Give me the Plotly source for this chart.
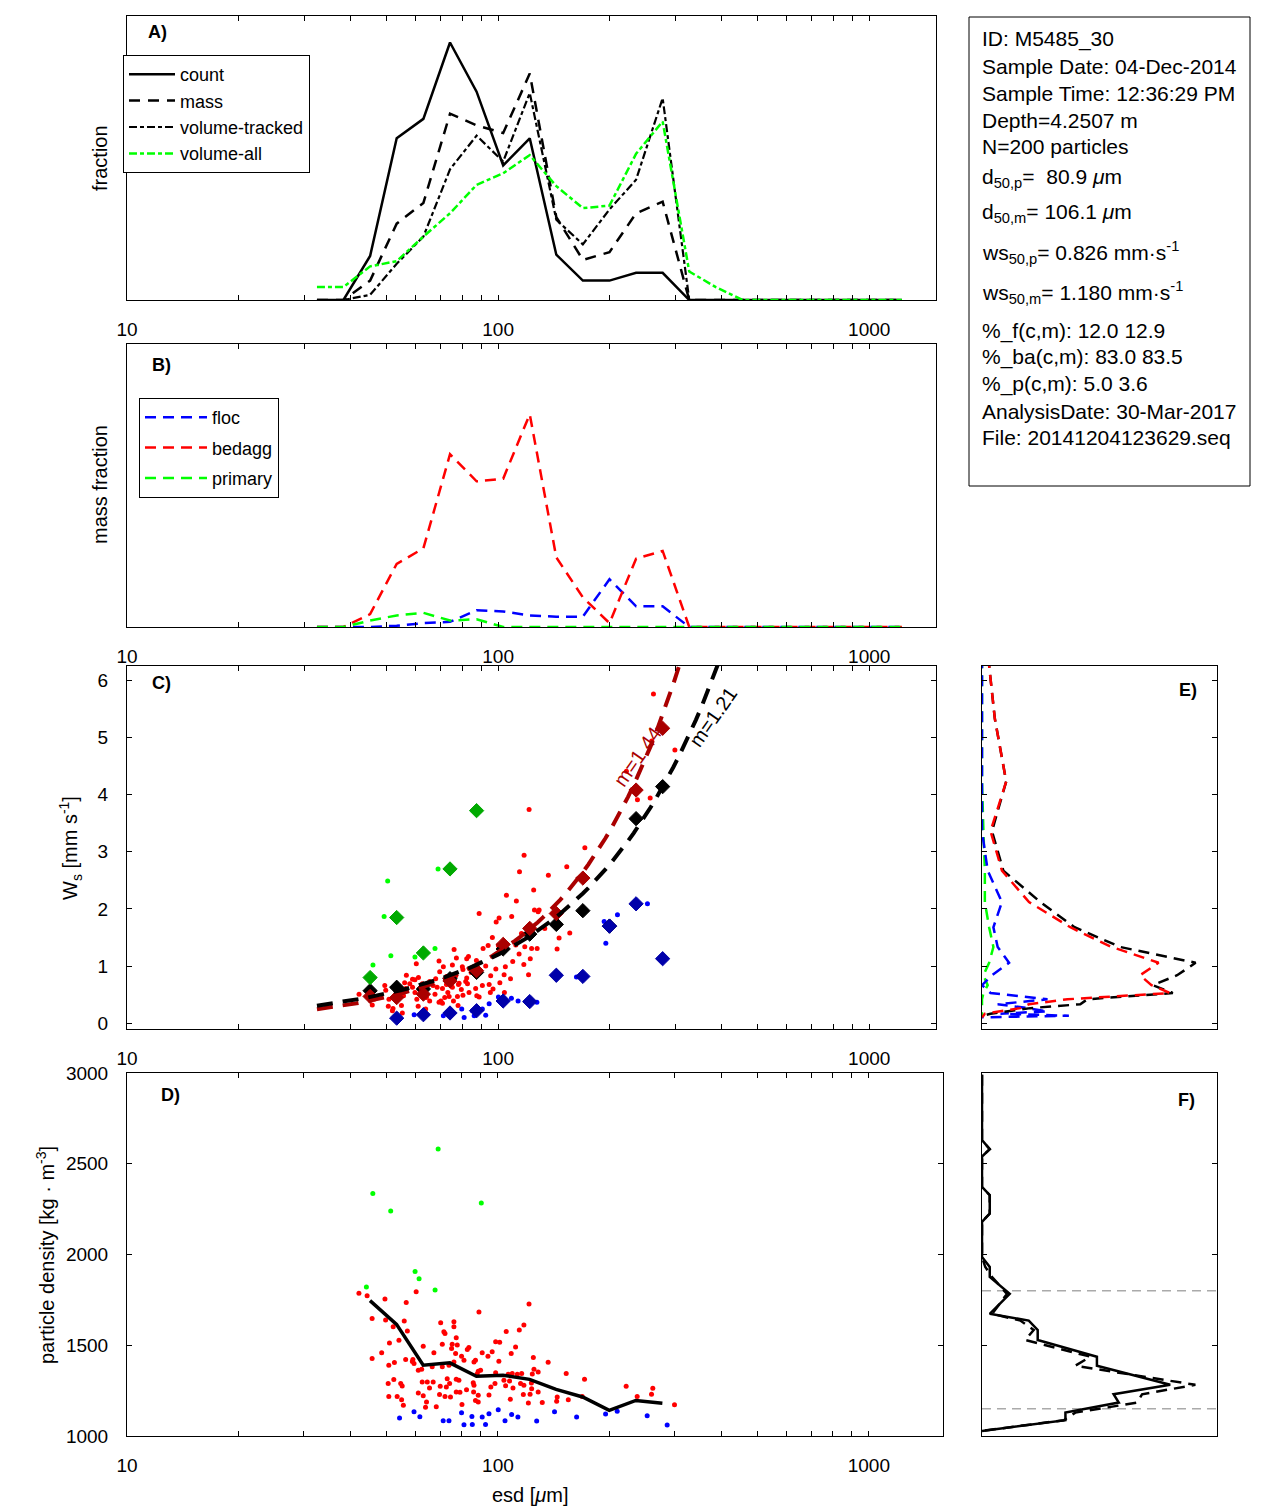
import numpy as np
import plotly.graph_objects as go

W, H = 1270, 1511
FONT = "Liberation Sans, Arial, Helvetica, sans-serif"

# ---------------- data ----------------
esd_bins = [32.5, 38.3, 45.2, 53.3, 62.9, 74.2, 87.5, 103.2, 121.7, 143.5, 169.2, 199.6,
            235.4, 277.6, 327.4, 386.1, 455.3, 537.0, 633.2, 746.8, 880.7, 1038.6, 1224.8]

# Panel A
frac_count = [0, 0, 0.034, 0.125, 0.140, 0.199, 0.161, 0.104, 0.125, 0.035, 0.015, 0.015,
              0.021, 0.021, 0, 0, 0, 0, 0, 0, 0, 0, 0]
frac_mass = [0, 0, 0.015, 0.059, 0.075, 0.144, 0.135, 0.129, 0.175, 0.064, 0.031, 0.037,
             0.067, 0.076, 0, 0, 0, 0, 0, 0, 0, 0, 0]
frac_vol_tracked = [0, 0, 0.004, 0.028, 0.049, 0.101, 0.127, 0.107, 0.160, 0.062, 0.043, 0.070,
                    0.093, 0.156, 0, 0, 0, 0, 0, 0, 0, 0, 0]
frac_vol_all = [0.010, 0.010, 0.026, 0.030, 0.049, 0.067, 0.089, 0.098, 0.112, 0.088, 0.071, 0.073,
                0.113, 0.138, 0.022, 0.010, 0, 0, 0, 0, 0, 0, 0]

# Panel B
mf_floc = [0, 0, 0, 0.001, 0.003, 0.004, 0.013, 0.012, 0.009, 0.008, 0.008, 0.037,
           0.016, 0.016, 0, 0, 0, 0, 0, 0, 0, 0, 0]
mf_bedagg = [0, 0, 0.010, 0.049, 0.061, 0.134, 0.113, 0.115, 0.165, 0.054, 0.023, 0.003,
             0.053, 0.059, 0, 0, 0, 0, 0, 0, 0, 0, 0]
mf_primary = [0, 0, 0.005, 0.009, 0.011, 0.005, 0.006, 0, 0, 0, 0, 0,
              0, 0, 0, 0, 0, 0, 0, 0, 0, 0, 0]

# Panel C: individual particles (esd um, ws mm/s)
c_bedagg_esd = [153.1, 114.2, 136.6, 124.7, 105.3, 112.0, 88.9, 125.3, 129.0, 128.2,
                100.6, 98.8, 108.8, 133.6, 146.0, 156.0, 115.6, 96.5, 91.1, 94.0,
                100.2, 111.6, 118.0, 123.1, 127.4, 144.2, 113.9, 122.1, 117.3, 109.5,
                120.8, 108.0, 69.3, 60.2, 76.1, 77.2, 82.3, 83.2, 87.4, 75.3,
                71.2, 80.1, 80.4, 84.6, 88.9, 92.6, 98.6, 95.5, 103.8, 104.6,
                94.6, 82.3, 81.8, 78.2, 76.9, 72.6, 69.6, 67.9, 65.4, 62.5,
                59.7, 56.6, 57.8, 58.8, 61.6, 56.0, 55.6, 53.6, 49.5, 49.8,
                53.0, 50.8, 52.1, 50.6, 51.9, 54.9, 55.2, 60.9, 64.1, 65.4,
                67.6, 70.1, 71.8, 69.3, 70.8, 73.2, 73.8, 75.8, 77.7, 79.6,
                80.4, 78.0, 82.7, 87.6, 88.9, 87.0, 90.7, 95.3, 101.1, 104.0,
                63.8, 45.8, 42.2, 46.3, 66.8, 61.9, 59.7, 72.6, 78.5, 75.3,
                70.8, 83.5, 68.5, 96.9, 58.8, 61.0, 56.4, 60.4,
                262.2, 299.5, 259.4, 256.9, 237.4, 221.7, 121.2, 171.3, 117.5]
c_bedagg_ws = [2.74, 2.65, 2.59, 2.33, 2.24, 2.14, 1.92, 1.98, 1.98, 1.95,
               1.84, 1.77, 1.87, 1.66, 1.49, 1.58, 1.57, 1.50, 1.31, 1.36,
               1.36, 1.37, 1.34, 1.31, 1.31, 1.30, 1.21, 1.13, 1.03, 1.08,
               0.85, 0.78, 1.09, 1.04, 1.29, 1.14, 1.13, 1.17, 1.10, 1.02,
               0.99, 0.99, 0.94, 0.89, 0.92, 1.00, 0.95, 0.83, 0.85, 0.99,
               0.68, 0.79, 0.73, 0.68, 0.83, 0.82, 0.90, 0.78, 0.73, 0.69,
               0.76, 0.84, 0.69, 0.63, 0.59, 0.71, 0.48, 0.63, 0.66, 0.58,
               0.44, 0.42, 0.26, 0.30, 0.22, 0.31, 0.18, 0.30, 0.45, 0.39,
               0.51, 0.39, 0.45, 0.37, 0.35, 0.54, 0.47, 0.39, 0.47, 0.59,
               0.49, 0.31, 0.69, 0.48, 0.46, 0.61, 0.66, 0.54, 0.71, 0.54,
               0.25, 0.32, 0.51, 0.42, 0.66, 0.50, 0.54, 0.68, 0.70, 0.63,
               0.61, 0.54, 0.63, 0.60, 0.77, 0.80, 0.61, 0.42,
               5.76, 4.78, 4.94, 3.94, 3.91, 4.41, 3.74, 3.07, 2.94]
c_primary_esd = [68.9, 50.4, 49.3, 51.4, 59.7, 67.6, 46.0]
c_primary_ws = [2.70, 2.49, 1.87, 1.18, 1.16, 1.31, 1.02]
c_floc_esd = [252.6, 209.7, 193.1, 195.1, 162.6, 100.2, 108.6, 113.2, 127.2, 104.2,
              94.6, 90.7, 92.6, 85.3, 79.8, 81.0, 71.2, 59.4, 86.2]
c_floc_ws = [2.09, 1.90, 1.78, 1.40, 0.81, 0.46, 0.44, 0.39, 0.37, 0.37,
             0.34, 0.25, 0.14, 0.22, 0.25, 0.10, 0.13, 0.15, 0.13]

# Panel C: bin medians
med_all_esd = [45.2, 53.3, 62.9, 74.2, 87.5, 103.2, 121.7, 143.5, 169.2, 199.6, 235.4, 277.6]
med_all_ws = [0.57, 0.63, 0.60, 0.78, 0.89, 1.30, 1.56, 1.73, 1.97, 1.70, 3.58, 4.14]
med_bedagg_esd = [45.2, 53.3, 62.9, 74.2, 87.5, 103.2, 121.7, 143.5, 169.2, 235.4, 277.6]
med_bedagg_ws = [0.47, 0.45, 0.51, 0.74, 0.92, 1.38, 1.66, 1.92, 2.54, 4.08, 5.16]
med_primary_esd = [45.2, 53.3, 62.9, 74.2, 87.5]
med_primary_ws = [0.80, 1.85, 1.23, 2.70, 3.72]
med_floc_esd = [53.3, 62.9, 74.2, 87.5, 103.2, 121.7, 143.5, 169.2, 199.6, 235.4, 277.6]
med_floc_ws = [0.09, 0.15, 0.18, 0.22, 0.39, 0.38, 0.84, 0.82, 1.70, 2.09, 1.13]

# Panel C: power-law fits ws = a * esd^m
fit_all = {"a": 0.00457, "m": 1.21}
fit_bedagg = {"a": 0.001635, "m": 1.44}
fit_esd_range = [32.5, 520.0]

# Panel D: particle density
d_bedagg_esd = [42.2, 44.4, 49.6, 60.2, 56.6, 45.8, 49.8, 52.2, 55.9, 57.0,
                54.1, 51.0, 45.8, 48.6, 52.6, 50.8, 56.4, 59.0, 59.4, 62.3,
                62.9, 67.2, 66.5, 70.1, 71.5, 72.0, 70.8, 76.1, 76.1, 77.2,
                75.3, 75.0, 77.7, 82.7, 83.5, 76.9, 76.1, 79.8, 81.0, 70.8,
                73.8, 86.2, 87.0, 90.7, 94.0, 96.5, 88.9, 100.6, 98.6, 101.1,
                105.3, 108.6, 111.6, 114.2, 117.5, 121.3, 124.6, 125.1, 128.4, 136.6,
                152.8, 171.2, 50.6, 52.4, 54.7, 55.2, 50.8, 53.5, 55.0, 55.6,
                61.0, 62.5, 64.5, 66.9, 65.4, 62.9, 64.2, 63.8, 68.2, 69.6,
                69.9, 72.6, 72.0, 74.5, 74.1, 73.0, 77.2, 78.5, 77.2, 79.0,
                80.0, 82.3, 86.2, 86.0, 87.0, 88.5, 88.5, 85.8, 88.5, 89.8,
                98.6, 95.7, 94.6, 98.2, 103.8, 104.9, 107.5, 106.6, 109.3, 112.8,
                115.9, 115.1, 117.5, 109.8, 108.0, 123.8, 123.1, 123.3, 122.1, 117.1,
                128.4, 120.8, 131.7, 144.5, 144.0, 154.8, 168.8, 221.7, 261.6, 259.5,
                237.4, 299.3, 61.0, 58.8, 87.9]
d_bedagg_rho = [1786, 1773, 1755, 1795, 1736, 1648, 1639, 1602, 1633, 1578,
                1528, 1513, 1427, 1458, 1405, 1390, 1421, 1421, 1399, 1368,
                1495, 1458, 1381, 1624, 1574, 1565, 1506, 1630, 1602, 1541,
                1506, 1482, 1501, 1477, 1488, 1454, 1408, 1440, 1418, 1381,
                1390, 1408, 1418, 1458, 1440, 1464, 1683, 1412, 1519, 1517,
                1576, 1454, 1491, 1584, 1611, 1727, 1432, 1368, 1353, 1407,
                1344, 1313, 1289, 1311, 1289, 1276, 1218, 1218, 1200, 1169,
                1237, 1298, 1298, 1298, 1265, 1222, 1187, 1158, 1161, 1228,
                1274, 1270, 1218, 1215, 1289, 1316, 1313, 1307, 1242, 1241,
                1174, 1255, 1279, 1242, 1196, 1224, 1187, 1294, 1357, 1362,
                1348, 1270, 1226, 1289, 1307, 1277, 1303, 1340, 1344, 1340,
                1344, 1289, 1279, 1265, 1202, 1342, 1292, 1261, 1230, 1228,
                1242, 1182, 1185, 1215, 1191, 1200, 1218, 1274, 1263, 1230,
                1218, 1172, 1362, 1410, 1342]
d_floc_esd = [54.3, 59.4, 61.6, 71.2, 73.8, 79.8, 81.0, 85.1, 85.3, 90.7, 92.6, 94.6,
              100.2, 104.5, 108.9, 113.2, 127.2, 142.1, 163.0, 195.1, 209.7, 252.6, 286.0]
d_floc_rho = [1099, 1134, 1106, 1084, 1084, 1128, 1062, 1108, 1064, 1104, 1064, 1123,
              1145, 1084, 1119, 1104, 1082, 1134, 1104, 1121, 1137, 1112, 1060]
d_primary_esd = [44.2, 59.8, 61.3, 67.7, 46.0, 51.4, 69.0, 90.2]
d_primary_rho = [1821, 1906, 1867, 1805, 2336, 2240, 2581, 2284]
med_rho_esd = [45.2, 53.3, 62.9, 74.2, 87.5, 103.2, 121.7, 143.5, 169.2, 199.6, 235.4, 277.6]
med_rho = [1746, 1615, 1390, 1403, 1329, 1335, 1312, 1257, 1215, 1141, 1196, 1181]

# Panel E: settling-velocity distributions
e_ws_bins = [6.72, 5.33, 4.23, 3.36, 2.67, 2.12, 1.68, 1.335, 1.059, 0.84,
             0.667, 0.529, 0.42, 0.333, 0.265, 0.21, 0.167, 0.132, 0.105]
e_all = [0.003, 0.009, 0.017, 0.007, 0.015, 0.041, 0.065, 0.097, 0.150, 0.137,
         0.120, 0.134, 0.074, 0.069, 0.034, 0.020, 0.006, 0.001, 0.000]
e_bedagg = [0.003, 0.009, 0.017, 0.006, 0.014, 0.033, 0.062, 0.091, 0.124, 0.111,
            0.119, 0.132, 0.060, 0.033, 0.027, 0.013, 0.002, 0.001, 0.000]
e_floc = [0, 0, 0, 0, 0.004, 0.014, 0.008, 0.011, 0.019, 0.007,
          0.000, 0.006, 0.046, 0.011, 0.032, 0.046, 0.013, 0.061, 0.000]
e_primary = [0, 0, 0, 0.001, 0.002, 0.002, 0.005, 0.008, 0.005, 0.001,
             0.004, 0.001, 0, 0, 0, 0, 0, 0, 0]

# Panel F: density distributions
f_rho = [2990, 2631, 2580, 2540, 2373, 2327, 2226, 2180, 1986, 1931, 1876, 1783,
         1673, 1636, 1584, 1529, 1437, 1387, 1282, 1230, 1184, 1129, 1087, 1028]
f_solid = [0, 0, 0.0033, 0, 0, 0.0033, 0.0033, 0, 0, 0.0033, 0.0033, 0.0118,
           0.0033, 0.0199, 0.0237, 0.0237, 0.0489, 0.0489, 0.0801, 0.0560, 0.0582, 0.0355, 0.0355, 0]
f_dashed = [0, 0, 0.0033, 0, 0, 0.0033, 0.0033, 0, 0, 0.0014, 0.0043, 0.0106,
            0.0043, 0.0163, 0.0220, 0.0184, 0.0461, 0.0397, 0.0908, 0.0681, 0.0660, 0.0397, 0.0348, 0]
rho_thresholds = [1800, 1150]

info_lines = [
    "ID: M5485_30",
    "Sample Date: 04-Dec-2014",
    "Sample Time: 12:36:29 PM",
    "Depth=4.2507 m",
    "N=200 particles",
    "d<sub>50,p</sub>=\u00a0\u00a080.9 <i>\u03bc</i>m",
    "d<sub>50,m</sub>= 106.1 <i>\u03bc</i>m",
    "ws<sub>50,p</sub>= 0.826 mm\u00b7s<sup>-1</sup>",
    "ws<sub>50,m</sub>= 1.180 mm\u00b7s<sup>-1</sup>",
    "%_f(c,m): 12.0 12.9",
    "%_ba(c,m): 83.0 83.5",
    "%_p(c,m): 5.0 3.6",
    "AnalysisDate: 30-Mar-2017",
    "File: 20141204123629.seq",
]
info_line_px = [39, 66, 93, 120, 147, 178, 213, 252, 293, 331, 357, 384, 411, 438]

# ---------------- helpers ----------------
def dx(p):
    return p / W


def dy(p):
    return 1 - p / H


tick_vals = [m * 10 ** e for e in (1, 2, 3) for m in range(1, 10)]
tick_text = [str(v) if v in (10, 100, 1000) else "" for v in tick_vals]
tfont = dict(family=FONT, size=19, color="black")


def xlog(domain_px, rng, anchor):
    return dict(type="log", domain=[dx(domain_px[0]), dx(domain_px[1])], range=rng,
                tickvals=tick_vals, ticktext=tick_text, ticks="inside", ticklen=5,
                tickcolor="black", tickwidth=1, showline=True, linecolor="black",
                linewidth=1, mirror="ticks", showgrid=False, zeroline=False,
                tickfont=tfont, ticklabelstandoff=12, anchor=anchor, automargin=False)


def ylin(domain_px, rng, anchor, tickvals=None, labels=True):
    d = dict(domain=[dy(domain_px[1]), dy(domain_px[0])], range=rng, showline=True,
             linecolor="black", linewidth=1, showgrid=False, zeroline=False,
             anchor=anchor, tickfont=tfont, automargin=False)
    if tickvals is None:
        d.update(ticks="", showticklabels=False, mirror=True)
    else:
        d.update(tickvals=tickvals, ticks="inside", ticklen=5, tickcolor="black",
                 mirror="ticks", showticklabels=labels, ticklabelstandoff=14)
    return d


def xlin(domain_px, rng, anchor):
    return dict(domain=[dx(domain_px[0]), dx(domain_px[1])], range=rng, showline=True,
                linecolor="black", linewidth=1, mirror=True, ticks="",
                showticklabels=False, showgrid=False, zeroline=False, anchor=anchor,
                automargin=False)


RED, GREEN, BLUE = "#ff0000", "#00ff00", "#0000ff"
DRED, DGREEN, DBLUE = "#aa0000", "#00aa00", "#0000aa"
DASH = "11px,7px"
DASHDOT = "8px,3px,4px,3px"

fig = go.Figure()

# ---- Panel A ----
for name, ys, col, dash, wd in [
    ("count", frac_count, "black", "solid", 2.5),
    ("mass", frac_mass, "black", "11px,8px", 2.5),
    ("volume-tracked", frac_vol_tracked, "black", DASHDOT, 2.2),
    ("volume-all", frac_vol_all, GREEN, DASHDOT, 2.5),
]:
    fig.add_trace(go.Scatter(x=esd_bins, y=ys, mode="lines", name=name,
                             line=dict(color=col, dash=dash, width=wd),
                             xaxis="x", yaxis="y", legend="legend"))

# ---- Panel B ----
for name, ys, col, g in [("floc", mf_floc, BLUE, "b1"), ("bedagg", mf_bedagg, RED, "b2"),
                         ("primary", mf_primary, GREEN, "b3")]:
    fig.add_trace(go.Scatter(x=esd_bins, y=ys, mode="lines", name=name, legendgroup=g,
                             line=dict(color=col, dash=DASH, width=2.5),
                             xaxis="x2", yaxis="y2", legend="legend2"))

# ---- Panel C ----
for xs, ys, col in [(c_bedagg_esd, c_bedagg_ws, RED), (c_primary_esd, c_primary_ws, GREEN),
                    (c_floc_esd, c_floc_ws, BLUE)]:
    fig.add_trace(go.Scatter(x=xs, y=ys, mode="markers", showlegend=False,
                             marker=dict(color=col, size=5, line=dict(width=0)),
                             xaxis="x3", yaxis="y3"))
for xs, ys, col in [(med_all_esd, med_all_ws, "black"), (med_bedagg_esd, med_bedagg_ws, DRED),
                    (med_primary_esd, med_primary_ws, DGREEN), (med_floc_esd, med_floc_ws, DBLUE)]:
    fig.add_trace(go.Scatter(x=xs, y=ys, mode="markers", showlegend=False,
                             marker=dict(color=col, size=11, symbol="diamond",
                                         line=dict(color=col, width=1)),
                             xaxis="x3", yaxis="y3"))
fit_x = np.logspace(np.log10(fit_esd_range[0]), np.log10(fit_esd_range[1]), 80)
for fit, col in [(fit_bedagg, DRED), (fit_all, "black")]:
    fig.add_trace(go.Scatter(x=fit_x, y=fit["a"] * fit_x ** fit["m"], mode="lines",
                             showlegend=False, line=dict(color=col, width=4, dash="16px,10px"),
                             xaxis="x3", yaxis="y3"))

# ---- Panel D ----
for xs, ys, col in [(d_bedagg_esd, d_bedagg_rho, RED), (d_primary_esd, d_primary_rho, GREEN),
                    (d_floc_esd, d_floc_rho, BLUE)]:
    fig.add_trace(go.Scatter(x=xs, y=ys, mode="markers", showlegend=False,
                             marker=dict(color=col, size=5, line=dict(width=0)),
                             xaxis="x4", yaxis="y4"))
fig.add_trace(go.Scatter(x=med_rho_esd, y=med_rho, mode="lines", showlegend=False,
                         line=dict(color="black", width=3.5), xaxis="x4", yaxis="y4"))

# ---- Panel E ----
for xs, col in [(e_primary, GREEN), (e_floc, BLUE), (e_all, "black"), (e_bedagg, RED)]:
    fig.add_trace(go.Scatter(x=xs, y=e_ws_bins, mode="lines", showlegend=False,
                             line=dict(color=col, dash=DASH, width=2.5),
                             xaxis="x5", yaxis="y5"))

# ---- Panel F ----
F_XMAX = 0.1
for thr in rho_thresholds:
    fig.add_trace(go.Scatter(x=[0, F_XMAX], y=[thr, thr], mode="lines", showlegend=False,
                             line=dict(color="#aaaaaa", dash="9px,6px", width=1.5),
                             xaxis="x6", yaxis="y6"))
fig.add_trace(go.Scatter(x=f_dashed, y=f_rho, mode="lines", showlegend=False,
                         line=dict(color="black", dash=DASH, width=2.5), xaxis="x6", yaxis="y6"))
fig.add_trace(go.Scatter(x=f_solid, y=f_rho, mode="lines", showlegend=False,
                         line=dict(color="black", width=2.5), xaxis="x6", yaxis="y6"))

# ---------------- layout ----------------
XR = [1, 3.18]
layout = dict(
    width=W, height=H, margin=dict(l=0, r=0, t=0, b=0, autoexpand=False),
    paper_bgcolor="white", plot_bgcolor="white",
    font=dict(family=FONT, size=19, color="black"),
    xaxis=xlog((127, 936), XR, "y"),
    yaxis=ylin((16, 300), [0, 0.2195], "x"),
    xaxis2=xlog((127, 936), XR, "y2"),
    yaxis2=ylin((344, 627), [0, 0.2195], "x2"),
    xaxis3=xlog((127, 936), XR, "y3"),
    yaxis3=ylin((666, 1029), [-0.1, 6.25], "x3", tickvals=[0, 1, 2, 3, 4, 5, 6]),
    xaxis4=xlog((127, 943), [1, 3.2], "y4"),
    yaxis4=ylin((1073, 1436), [1000, 3000], "x4", tickvals=[1000, 1500, 2000, 2500, 3000]),
    xaxis5=xlin((982, 1217), [0, 0.165], "y5"),
    yaxis5=ylin((666, 1029), [-0.1, 6.25], "x5", tickvals=[0, 1, 2, 3, 4, 5, 6], labels=False),
    xaxis6=xlin((982, 1217), [0, F_XMAX], "y6"),
    yaxis6=ylin((1073, 1436), [1000, 3000], "x6", tickvals=[1000, 1500, 2000, 2500, 3000],
                labels=False),
    legend=dict(x=dx(123), y=dy(55), xanchor="left", yanchor="top", bgcolor="white",
                bordercolor="black", borderwidth=1, font=dict(family=FONT, size=18),
                traceorder="normal", itemwidth=46),
    legend2=dict(x=dx(139), y=dy(398), xanchor="left", yanchor="top", bgcolor="white",
                 bordercolor="black", borderwidth=1, font=dict(family=FONT, size=18),
                 traceorder="grouped", tracegroupgap=4, itemwidth=62),
    showlegend=True,
)
fig.update_layout(**layout)

ann = []


def label(text, xp, yp, size=19, bold=False, angle=0, color="black", xanchor="center"):
    ann.append(dict(text=("<b>%s</b>" % text) if bold else text, x=dx(xp), y=dy(yp),
                    xref="paper", yref="paper", showarrow=False, textangle=angle,
                    xanchor=xanchor, yanchor="middle",
                    font=dict(family=FONT, size=size, color=color)))


label("A)", 157, 32, size=18, bold=True)
label("B)", 161, 365, size=18, bold=True)
label("C)", 161, 683, size=18, bold=True)
label("D)", 170, 1095, size=18, bold=True)
label("E)", 1188, 690, size=18, bold=True)
label("F)", 1186, 1100, size=18, bold=True)
label("fraction", 100, 158, size=20, angle=-90)
label("mass fraction", 100, 485, size=20, angle=-90)
label("W<sub>s</sub> [mm s<sup>-1</sup>]", 70, 848, size=20, angle=-90)
label("particle density [kg \u00b7 m<sup>-3</sup>]", 45, 1255, size=20, angle=-90)
label("esd [<i>\u03bc</i>m]", 530, 1495, size=20)

# fit labels placed in data coordinates of panel C
ann.append(dict(text="m=%.2f" % fit_bedagg["m"], x=2.375, y=4.66, xref="x3", yref="y3",
                showarrow=False, textangle=-55, font=dict(family=FONT, size=20, color=DRED)))
ann.append(dict(text="m=%.2f" % fit_all["m"], x=2.58, y=5.35, xref="x3", yref="y3",
                showarrow=False, textangle=-55, font=dict(family=FONT, size=20, color="black")))

for t, yp in zip(info_lines, info_line_px):
    ann.append(dict(text=t, x=dx(980), y=dy(yp), xref="paper", yref="paper", showarrow=False,
                    xanchor="left", yanchor="middle", align="left",
                    font=dict(family=FONT, size=21, color="black")))

fig.update_layout(annotations=ann)
fig.add_shape(type="rect", xref="paper", yref="paper", x0=dx(969), x1=dx(1250),
              y0=dy(486), y1=dy(17), line=dict(color="black", width=1), fillcolor="rgba(0,0,0,0)")

fig.write_html("out.html", config={"displayModeBar": False},
               post_script="document.body.style.margin='0';document.body.style.padding='0';")
